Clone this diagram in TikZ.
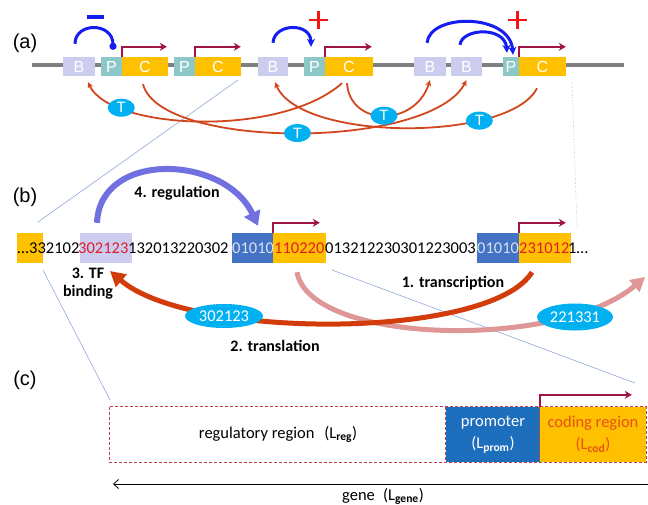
\documentclass[tikz,border=0pt]{standalone}
\usepackage{fontspec}
\setmainfont{Carlito}
\newfontfamily\arialf{Liberation Sans}
\usetikzlibrary{arrows.meta,shapes.geometric}
\definecolor{grayline}{RGB}{128,128,128}
\definecolor{lavB}{RGB}{204,204,238}
\definecolor{tealP}{RGB}{140,200,200}
\definecolor{orangeC}{RGB}{255,192,0}
\definecolor{maroon}{RGB}{160,20,70}
\definecolor{tblue}{RGB}{0,176,240}
\definecolor{redT}{RGB}{210,70,30}
\definecolor{blueArc}{RGB}{20,30,240}
\definecolor{plusred}{RGB}{240,20,20}
\definecolor{seqred}{RGB}{225,30,40}
\definecolor{bluebox}{RGB}{68,114,196}
\definecolor{lavbox}{RGB}{204,204,240}
\definecolor{regblue}{RGB}{112,112,224}
\definecolor{transred}{RGB}{210,60,10}
\definecolor{pinkc}{RGB}{222,150,150}
\definecolor{zoomc}{RGB}{143,170,220}
\definecolor{promblue}{RGB}{30,110,190}
\definecolor{dashred}{RGB}{192,64,80}
\definecolor{codtext}{RGB}{232,80,20}
\definecolor{lightdig}{RGB}{215,225,240}
\begin{document}
\begin{tikzpicture}[x=1pt,y=-1pt,
 boxa/.style={inner sep=0pt, minimum height=19pt, text=white, font=\arialf\fontsize{16}{16}\selectfont},
 tnode/.style={ellipse, fill=tblue, text=white, inner sep=0pt, minimum width=27pt, minimum height=18pt, font=\arialf\fontsize{15}{15}\selectfont},
 tarrow/.style={draw=redT, line width=1.8pt, -{Stealth[length=6pt,width=6pt]}},
 promarrow/.style={draw=maroon, line width=2pt, -{Stealth[length=7pt,width=8pt]}},
 barc/.style={draw=blueArc, line width=3pt},
 seq/.style={inner sep=0pt, anchor=base west, font=\fontsize{16.5}{16.5}\selectfont},
 bbox/.style={inner sep=0pt, minimum height=30pt},
 steplabel/.style={font=\bfseries\fontsize{16}{18}\selectfont, align=center, inner sep=0pt},
 zline/.style={draw=zoomc, line width=0.6pt},
 bigell/.style={ellipse, fill=tblue, text=white, inner sep=0pt, font=\fontsize{16.5}{16.5}\selectfont},
 panel/.style={font=\arialf\fontsize{20}{20}\selectfont, inner sep=0pt},
 cbox/.style={inner sep=0pt, minimum height=55pt, align=center, font=\fontsize{16.5}{22}\selectfont}
]
\useasboundingbox (0,0) rectangle (648,504);
\clip (0,0) rectangle (648,504);
\fill[white] (0,0) rectangle (648,504);

% zoom guide lines
\coordinate (za1) at (238,80); \coordinate (zb1) at (38,222);
\coordinate (za2) at (572,82); \coordinate (zb2) at (577,228);
\coordinate (zc1) at (43,270); \coordinate (zd1) at (110,400);
\coordinate (zc2) at (332,270); \coordinate (zd2) at (635,383);
\draw[zline] (za1) -- (zb1);
\draw[zline, dotted] (za2) -- (zb2);
\draw[zline] (zc1) -- (zd1);
\draw[zline] (zc2) -- (zd2);

% ---------------- (a)
\node[panel] (la) at (25,43) {(a)};
\coordinate (gl) at (32,65); \coordinate (gr) at (624,65);
\draw[grayline, line width=4pt] (gl) -- (gr);

\node[boxa, fill=lavB, minimum width=32pt] (B1) at (79,66.5) {B};
\node[boxa, fill=tealP, minimum width=21pt] (P1) at (111.5,66.5) {P};
\node[boxa, fill=orangeC, minimum width=46pt] (C1) at (145,66.5) {C};
\node[boxa, fill=tealP, minimum width=21pt] (P2) at (184.5,66.5) {P};
\node[boxa, fill=orangeC, minimum width=46pt] (C2) at (218,66.5) {C};
\node[boxa, fill=lavB, minimum width=30pt] (B3) at (273,66.5) {B};
\node[boxa, fill=tealP, minimum width=21pt] (P3) at (314.5,66.5) {P};
\node[boxa, fill=orangeC, minimum width=48pt] (C3) at (349,66.5) {C};
\node[boxa, fill=lavB, minimum width=32pt] (B4) at (430,66.5) {B};
\node[boxa, fill=lavB, minimum width=31pt] (B5) at (466.5,66.5) {B};
\node[boxa, fill=tealP, minimum width=16pt] (P4) at (511,66.5) {P};
\node[boxa, fill=orangeC, minimum width=47pt] (C4) at (542.5,66.5) {C};

\draw[promarrow] (C1.north west) -- ++(0,-10) -- ++(45,0);
\draw[promarrow] (C2.north west) -- ++(0,-10) -- ++(46,0);
\draw[promarrow] (C3.north west) -- ++(0,-10) -- ++(47,0);
\draw[promarrow] (C4.north west) -- ++(0,-10) -- ++(47,0);

\draw[barc, -{Circle[length=7pt]}] ([xshift=-4pt,yshift=13pt]B1.north) .. controls (75,22) and (113,22) .. ([xshift=1.5pt,yshift=7pt]P1.north);
\draw[barc, -{Stealth[length=8pt,width=8pt]}] ([yshift=14pt]B3.north) .. controls (274,23) and (311,22) .. ([xshift=-3.5pt,yshift=10pt]P3.north);
\draw[barc, -{Stealth[length=8pt,width=8pt]}] ([xshift=-3pt,yshift=14pt]B4.north) .. controls (430,13) and (510,13) .. ([xshift=2pt,yshift=2pt]P4.north);
\draw[barc, -{Stealth[length=8pt,width=8pt]}] ([xshift=-6.5pt,yshift=12pt]B5.north) .. controls (462,28) and (505,26) .. ([xshift=-4pt,yshift=4pt]P4.north);

\draw[blueArc, line width=4pt] (87,17) -- (104,17);
\draw[plusred, line width=2.2pt] (309,20) -- (328,20) (318.5,11) -- (318.5,29);
\draw[plusred, line width=2.2pt] (508,20) -- (527,20) (517.5,11) -- (517.5,29);

\draw[tarrow] ([xshift=-7pt,yshift=-7pt]C3.south) .. controls (280,138) and (110,130) .. ([xshift=9pt,yshift=-6pt]B1.south) coordinate[pos=0.78] (t1);
\draw[tarrow] ([xshift=-2pt,yshift=-8pt]C1.south) .. controls (160,150) and (430,150) .. ([yshift=-4pt]B5.south) coordinate[pos=0.5] (t2);
\draw[tarrow] ([xshift=-2pt,yshift=-7pt]C3.south) .. controls (350,127) and (415,127) .. ([yshift=-4pt]B4.south) coordinate[pos=0.5] (t3);
\draw[tarrow] ([xshift=-5.5pt,yshift=-12pt]C4.south) .. controls (510,142) and (300,142) .. ([xshift=2pt,yshift=-6pt]B3.south) coordinate[pos=0.28] (t4);
\node[tnode] (T1) at (t1) {T};
\node[tnode] (T2) at (t2) {T};
\node[tnode] (T3) at (t3) {T};
\node[tnode] (T4) at (t4) {T};

% ---------------- (b)
\node[panel] (lb) at (25,197) {(b)};
\node[bbox, fill=orangeC, minimum width=26pt] (o0) at (30,248) {};
\node[bbox, fill=lavbox, minimum width=52pt] (lav) at (106,248) {};
\node[bbox, fill=bluebox, minimum width=41pt] (bl1) at (252.5,248) {};
\node[bbox, fill=orangeC, minimum width=53pt] (o1) at (299.5,248) {};
\node[bbox, fill=bluebox, minimum width=42pt] (bl2) at (498,248) {};
\node[bbox, fill=orangeC, minimum width=52pt] (o2) at (545,248) {};

\node[seq, anchor=base east] (s0) at (29,253) {…};
\node[seq] (s1) at (29,253) {332102};
\node[seq, text=seqred] (s2) at (78,253) {302123};
\node[seq] (s3) at (128,253) {132013220302};
\node[seq, text=lightdig] (s4) at (232,253) {01010};
\node[seq, text=seqred] (s5) at (274,253) {110220};
\node[seq] (s6) at (325,253) {013212230301223003};
\node[seq, text=lightdig] (s7) at (477,253) {01010};
\node[seq, text=seqred] (s8) at (519,253) {231012};
\node[seq] (s9) at (568,253) {1…};

\draw[promarrow] (o1.north west) -- ++(0,-10) -- ++(47,0);
\draw[promarrow] (o2.north west) -- ++(0,-10) -- ++(47,0);

\node[steplabel] (reglab) at (177,193) {4. regulation};
\node[steplabel] (tfb) at (88,284) {3. TF\\binding};
\node[steplabel] (trlab) at (453,283) {1. transcription};
\node[steplabel] (tllab) at (275,346) {2. translation};

\draw[regblue, line width=6pt, -{Triangle[length=14pt,width=17pt]}] ([xshift=-9pt,yshift=10pt]lav.north) .. controls (100,150) and (225,155) .. ([xshift=5.5pt,yshift=7pt]bl1.north);

\coordinate (pinktip) at (645,277);
\coordinate (redtip) at (110,271);
\draw[pinkc, line width=5pt, -{Triangle[length=14pt,width=15pt]}] ([xshift=-2.5pt,yshift=-9pt]o1.south) .. controls (310,345) and (560,350) .. (pinktip);
\draw[transred, line width=5pt, -{Triangle[length=15pt,width=16pt]}] ([xshift=-13pt,yshift=-9pt]o2.south) .. controls (490,340) and (190,340) .. (redtip);

\node[bigell, minimum width=78pt, minimum height=24pt] (e1) at (224,316) {302123};
\node[bigell, minimum width=76pt, minimum height=27pt] (e2) at (575,317) {221331};

% ---------------- (c)
\node[panel] (lc) at (25,380) {(c)};
\node[cbox, fill=white, minimum width=336pt] (reg) at (278,434.5) {regulatory region\hspace{0.6em}(L\textsubscript{\textbf{reg}})};
\node[cbox, fill=promblue, minimum width=94pt, text=white] (prom) at (493,434.5) {promoter\\(L\textsubscript{\textbf{prom}})};
\node[cbox, fill=orangeC, minimum width=106pt, text=codtext] (cod) at (593,434.5) {coding region\\(L\textsubscript{\textbf{cod}})};
\draw[dashred, line width=0.8pt, dash pattern=on 3pt off 2pt] (reg.north west) rectangle (cod.south east);
\draw[dashred, line width=0.8pt, dash pattern=on 3pt off 2pt] (prom.north west) -- (prom.south west) (cod.north west) -- (cod.south west);
\draw[promarrow] (cod.north west) -- ++(0,-12) -- ++(92,0);

\coordinate (geneR) at (655,484);
\coordinate (geneL) at (113,484);
\draw[line width=0.8pt, -{Straight Barb[length=5pt,width=9pt]}] (geneR) -- (geneL);
\node[font=\fontsize{16.5}{16.5}\selectfont, anchor=base, inner sep=0pt] (gene) at (383,500) {gene\hspace{0.5em}(L\textsubscript{\textbf{gene}})};
\end{tikzpicture}
\end{document}
